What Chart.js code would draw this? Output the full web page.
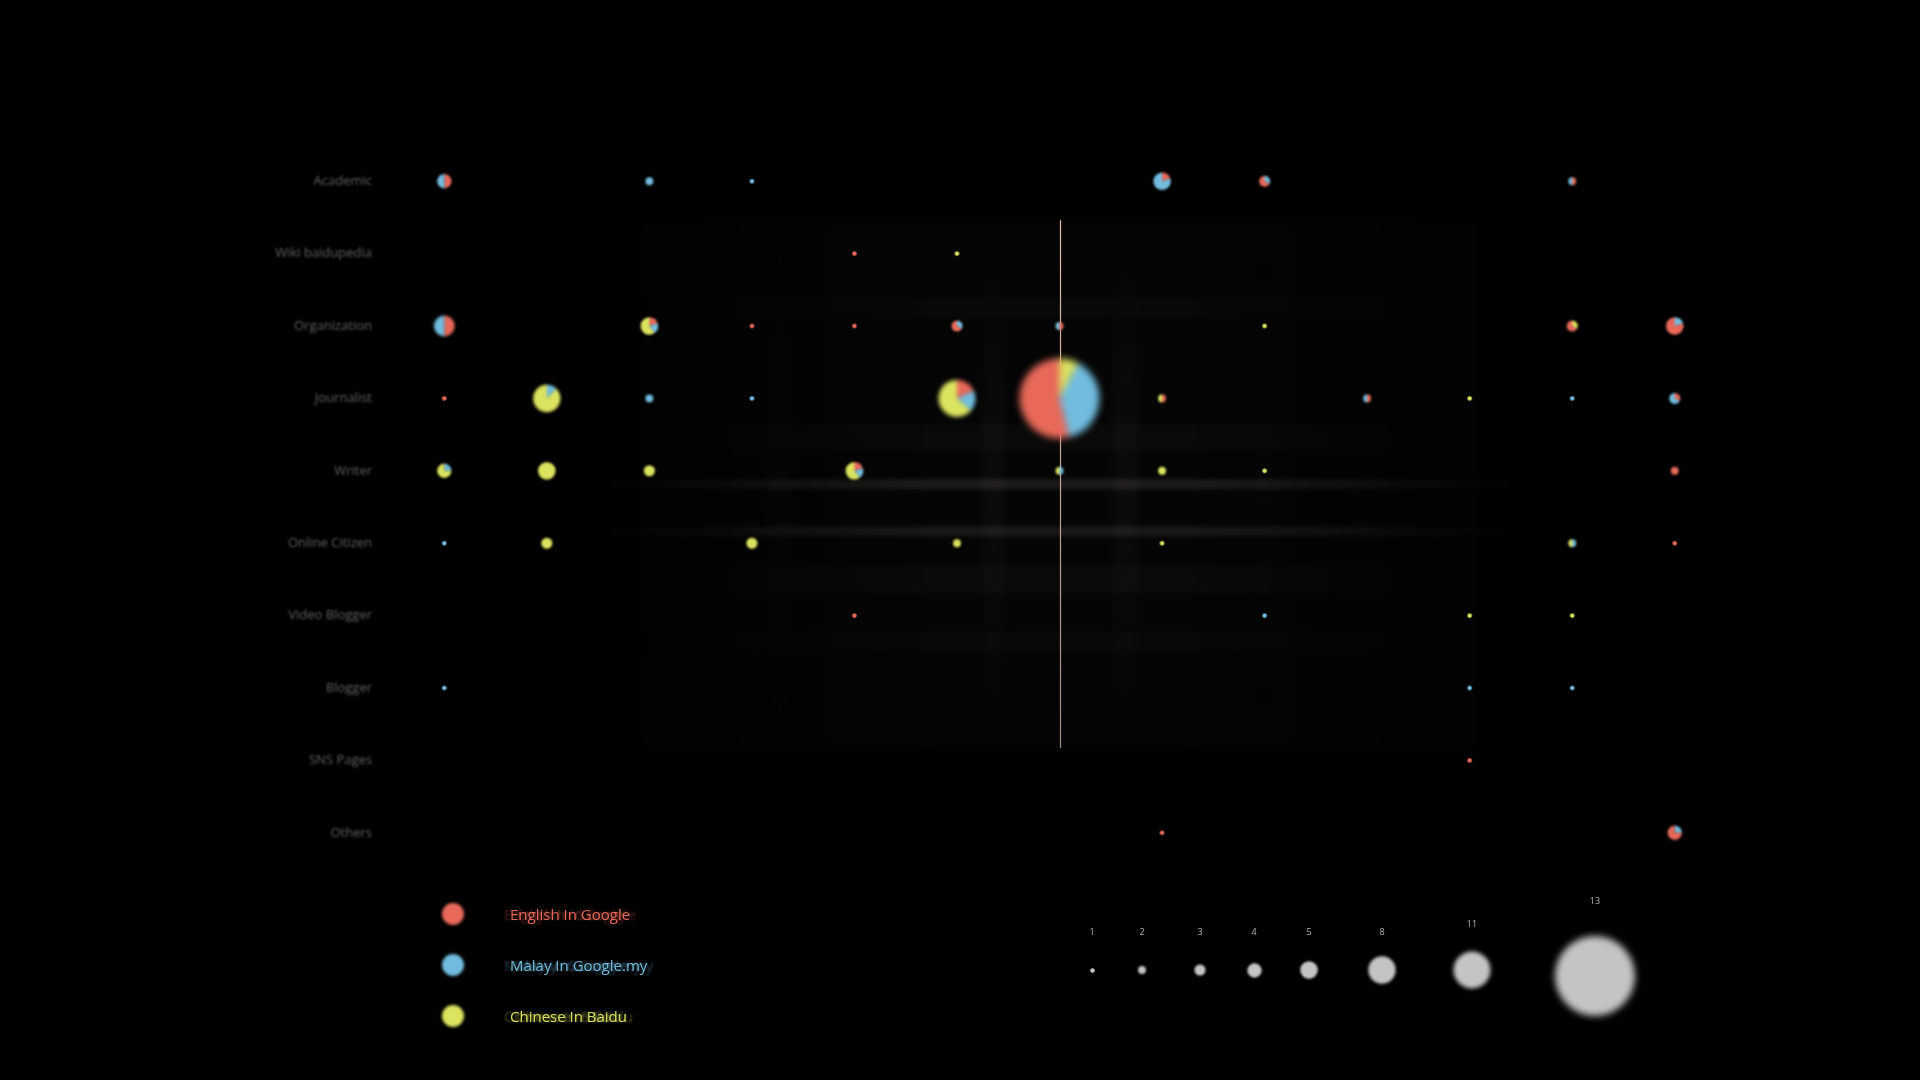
<!DOCTYPE html>
<html>
<head>
<meta charset="utf-8">
<script src="https://cdn.jsdelivr.net/npm/chart.js@4.4.1/dist/chart.umd.min.js"></script>
<style>
  html, body { margin: 0; padding: 0; background: #000; width: 1920px; height: 1080px; overflow: hidden; font-family: 'Open Sans', sans-serif; }
  #wrap { position: absolute; left: 0; top: 0; width: 1920px; height: 1080px; }
  .legText { position: absolute; font-size: 15px; white-space: nowrap; line-height: 20px; filter: blur(0.4px); }
  .sizeLabel { position: absolute; font-size: 9px; color: #b5b5b5; transform: translateX(-50%); white-space: nowrap; }
</style>
</head>
<body>
<div id="wrap"><canvas id="chart"></canvas></div>
<div id="legend"></div>
<div id="sizeLegend"></div>
<script>
// ---------- DATA ----------
const rowLabels = ['Academic', 'Wiki baidupedia', 'Organization', 'Journalist', 'Writer',
                   'Online Citizen', 'Video Blogger', 'Blogger', 'SNS Pages', 'Others'];
const columnCount = 13;
const seriesNames = ['English In Google', 'Malay In Google.my', 'Chinese In Baidu'];

const englishInGoogle = [
  [2,0,0,0,0,0,0,1,2,0,0,1,0],
  [0,0,0,0,1,0,0,0,0,0,0,0,0],
  [3,0,1,1,1,2,1,0,0,0,0,2,4],
  [1,0,0,0,0,2,7,1,0,1,0,0,1],
  [0,0,0,0,1,0,0,0,0,0,0,0,2],
  [0,0,0,0,0,0,0,0,0,0,0,0,1],
  [0,0,0,0,1,0,0,0,0,0,0,0,0],
  [0,0,0,0,0,0,0,0,0,0,0,0,0],
  [0,0,0,0,0,0,0,0,0,0,1,0,0],
  [0,0,0,0,0,0,0,1,0,0,0,0,3]
];
const malayInGoogle = [
  [2,0,2,1,0,0,0,4,1,0,0,1,0],
  [0,0,0,0,0,0,0,0,0,0,0,0,0],
  [3,0,1,0,0,1,1,0,0,0,0,0,1],
  [0,1,2,1,0,2,5,0,0,1,0,1,2],
  [1,0,0,0,1,0,1,0,0,0,0,0,0],
  [1,0,0,0,0,0,0,0,0,0,0,1,0],
  [0,0,0,0,0,0,0,0,1,0,0,0,0],
  [1,0,0,0,0,0,0,0,0,0,1,1,0],
  [0,0,0,0,0,0,0,0,0,0,0,0,0],
  [0,0,0,0,0,0,0,0,0,0,0,0,1]
];
const chineseInBaidu = [
  [0,0,0,0,0,0,0,0,0,0,0,0,0],
  [0,0,0,0,0,1,0,0,0,0,0,0,0],
  [0,0,3,0,0,0,0,0,1,0,0,1,0],
  [0,7,0,0,0,7,1,1,0,0,1,0,0],
  [3,5,3,0,3,0,1,2,1,0,0,0,0],
  [0,3,0,3,0,2,0,1,0,0,0,1,0],
  [0,0,0,0,0,0,0,0,0,0,1,1,0],
  [0,0,0,0,0,0,0,0,0,0,0,0,0],
  [0,0,0,0,0,0,0,0,0,0,0,0,0],
  [0,0,0,0,0,0,0,0,0,0,0,0,0]
];
const sizeLegendValues = [1, 2, 3, 4, 5, 8, 11, 13];
const markerColumn = 6;

// ---------- STYLE ----------
const seriesColors = ['#e8695a', '#72bddf', '#dce35f'];
const sizeGray = '#c4c4c4';

function radiusFor(n) {
  return n >= 13 ? 40 : 1.62 * n + 0.7;
}

function pieImage(values, colors, r) {
  const blur = 0.5 + r * 0.085;
  const pad = Math.ceil(blur * 3) + 2;
  const size = Math.ceil(2 * (r + pad));
  const c = size / 2;
  const raw = document.createElement('canvas');
  raw.width = raw.height = size;
  const g = raw.getContext('2d');
  const total = values.reduce((a, b) => a + b, 0);
  const order = values.map((v, i) => ({ v, i })).filter(o => o.v > 0).sort((a, b) => a.v - b.v || a.i - b.i);
  let a = -Math.PI / 2;
  order.forEach(o => {
    const ang = o.v / total * Math.PI * 2;
    g.beginPath();
    g.moveTo(c, c);
    g.arc(c, c, r, a, a + ang);
    g.closePath();
    g.fillStyle = colors[o.i];
    g.fill();
    a += ang;
  });
  const out = document.createElement('canvas');
  out.width = out.height = size;
  const o2 = out.getContext('2d');
  o2.filter = 'blur(' + blur.toFixed(2) + 'px)';
  o2.drawImage(raw, 0, 0);
  return out;
}

// ---------- BUILD POINTS ----------
const points = [];
const images = [];
for (let row = 0; row < rowLabels.length; row++) {
  for (let col = 0; col < columnCount; col++) {
    const vals = [englishInGoogle[row][col], malayInGoogle[row][col], chineseInBaidu[row][col]];
    const total = vals[0] + vals[1] + vals[2];
    if (!total) continue;
    const r = radiusFor(total);
    points.push({ x: col, y: rowLabels[row], r: r, counts: vals, total: total });
    images.push(pieImage(vals, seriesColors, r));
  }
}

// ---------- PLUGINS ----------
const decor = {
  id: 'decor',
  beforeDraw(chart) {
    chart.ctx.save();
    chart.ctx.filter = 'blur(0.8px)';
  },
  beforeDatasetsDraw(chart) {
    const ctx = chart.ctx;
    ctx.restore();
    const xs = chart.scales.x, ys = chart.scales.y;
    const X = v => xs.getPixelForValue(v);
    const Y = v => ys.getPixelForValue(v);
    ctx.save();
    ctx.filter = 'blur(5px)';
    const x0 = X(1.4), x1 = X(10.6), y0 = Y(0.54), y1 = Y(7.85);
    const bg = ctx.createLinearGradient(x0, 0, x1, 0);
    bg.addColorStop(0, 'rgba(255,255,255,0.005)');
    bg.addColorStop(0.4, 'rgba(255,255,255,0.02)');
    bg.addColorStop(0.6, 'rgba(255,255,255,0.02)');
    bg.addColorStop(1, 'rgba(255,255,255,0.005)');
    ctx.fillStyle = bg;
    ctx.fillRect(x0, y0, x1 - x0, y1 - y0);
    [[5.25, 5.47, 0.03], [6.52, 6.77, 0.03], [3.15, 3.4, 0.015], [7.9, 8.1, 0.012]].forEach(([a, b, al]) => {
      const vg = ctx.createLinearGradient(0, y0, 0, y1);
      vg.addColorStop(0, 'rgba(255,245,240,0)');
      vg.addColorStop(0.5, 'rgba(255,245,240,' + al + ')');
      vg.addColorStop(1, 'rgba(255,245,240,0)');
      ctx.fillStyle = vg;
      ctx.fillRect(X(a), y0, X(b) - X(a), y1 - y0);
    });
    ctx.filter = 'blur(2.5px)';
    const bands = [[4.12, 4.25, 0.1], [4.77, 4.9, 0.09], [3.35, 3.72, 0.022], [5.3, 5.7, 0.022], [1.6, 1.9, 0.015], [6.2, 6.5, 0.015]];
    bands.forEach(([a, b, al]) => {
      const grd = ctx.createLinearGradient(x0, 0, x1, 0);
      grd.addColorStop(0, 'rgba(255,240,230,0)');
      grd.addColorStop(0.35, 'rgba(255,240,230,' + al + ')');
      grd.addColorStop(0.65, 'rgba(255,240,230,' + al + ')');
      grd.addColorStop(1, 'rgba(255,240,230,0)');
      ctx.fillStyle = grd;
      ctx.fillRect(x0, Y(a), x1 - x0, Y(b) - Y(a));
    });
    ctx.filter = 'none';
    const mx = Math.round(X(markerColumn)) + 0.5;
    const lg = ctx.createLinearGradient(0, y0, 0, Y(7.83));
    lg.addColorStop(0, '#e6bcaa');
    lg.addColorStop(1, '#9c8c86');
    ctx.strokeStyle = lg;
    ctx.lineWidth = 1.2;
    ctx.beginPath();
    ctx.moveTo(mx, y0);
    ctx.lineTo(mx, Y(7.83));
    ctx.stroke();
    ctx.restore();
  }
};

// ---------- CHART ----------
new Chart(document.getElementById('chart'), {
  type: 'bubble',
  data: {
    datasets: [{
      label: 'Sources',
      data: points,
      pointStyle: ctx => images[ctx.dataIndex],
      backgroundColor: 'rgba(0,0,0,0)',
      borderWidth: 0,
      clip: false
    }]
  },
  options: {
    responsive: true,
    maintainAspectRatio: false,
    animation: false,
    layout: { padding: { left: 0, top: 145, right: 194, bottom: 211 } },
    plugins: {
      legend: { display: false },
      tooltip: {
        callbacks: {
          label: c => {
            const p = c.raw;
            return p.y + ': ' + seriesNames.map((s, i) => s + ' ' + p.counts[i]).join(', ');
          }
        }
      }
    },
    scales: {
      x: { type: 'linear', min: -0.5, max: columnCount - 0.5, display: false },
      y: {
        type: 'category',
        labels: rowLabels,
        offset: true,
        grid: { display: false, drawTicks: false },
        border: { display: false },
        ticks: { color: '#606060', padding: 21, font: { family: "'Open Sans', sans-serif", size: 13 } },
        afterFit: s => { s.width = 393; }
      }
    }
  },
  plugins: [decor]
});

// ---------- HTML LEGENDS ----------
const legend = document.getElementById('legend');
seriesNames.forEach((name, i) => {
  const cy = 914 + i * 51;
  const img = pieImage([1], [seriesColors[i]], 11);
  img.style.position = 'absolute';
  img.style.left = (453 - img.width / 2) + 'px';
  img.style.top = (cy - img.height / 2) + 'px';
  legend.appendChild(img);
  const t = document.createElement('div');
  t.className = 'legText';
  t.textContent = name;
  t.style.left = '510px';
  t.style.top = (cy - 10) + 'px';
  t.style.color = seriesColors[i];
  t.style.textShadow = '-6px 0 2px ' + seriesColors[i] + '55, 6px 0 2px ' + seriesColors[i] + '55';
  legend.appendChild(t);
});

const sizeX = [1092, 1142, 1200, 1254, 1309, 1382, 1472, 1595];
const sizeLegend = document.getElementById('sizeLegend');
sizeLegendValues.forEach((v, i) => {
  const r = radiusFor(v);
  const cy = v >= 13 ? 976 : 970;
  const img = pieImage([1], [sizeGray], r);
  img.style.position = 'absolute';
  img.style.left = (sizeX[i] - img.width / 2) + 'px';
  img.style.top = (cy - img.height / 2) + 'px';
  sizeLegend.appendChild(img);
  const l = document.createElement('div');
  l.className = 'sizeLabel';
  l.textContent = v;
  l.style.left = sizeX[i] + 'px';
  l.style.top = (v >= 13 ? 894 : (v >= 11 ? 917 : 925)) + 'px';
  sizeLegend.appendChild(l);
});
</script>
</body>
</html>
